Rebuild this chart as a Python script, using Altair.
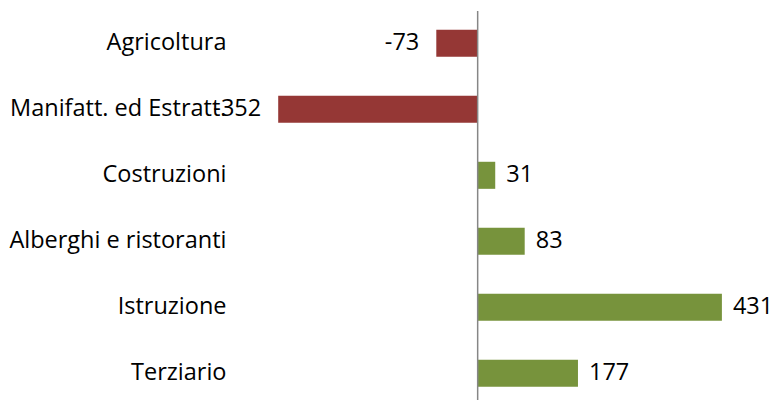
import altair as alt
import pandas as pd

categories = ["Agricoltura", "Manifatt. ed Estratt.", "Costruzioni",
              "Alberghi e ristoranti", "Istruzione", "Terziario"]
values = [-73, -352, 31, 83, 431, 177]

df = pd.DataFrame({"cat": categories, "val": values})
df["sign"] = ["neg" if v < 0 else "pos" for v in values]
df["lab"] = [("-" + str(-v)) if v < 0 else str(v) for v in values]

FONT = "Open Sans"
FS = 23.5
H = 390
W = 510

y_enc = alt.Y("cat:N", sort=categories,
              scale=alt.Scale(paddingInner=0.59, paddingOuter=0.25, align=0.6),
              axis=alt.Axis(title=None, domain=False, ticks=False,
                            labelFont=FONT, labelFontSize=FS, labelColor="#000000",
                            labelPadding=25, labelLimit=400))
x_scale = alt.Scale(domain=[-400, 500], nice=False, zero=False)

base = alt.Chart(df)

bars = base.mark_bar().encode(
    y=y_enc,
    x=alt.X("val:Q", scale=x_scale, axis=None),
    x2=alt.datum(0),
    color=alt.Color("sign:N", scale=alt.Scale(domain=["neg", "pos"], range=["#953735", "#77933C"]), legend=None),
)

labels_neg = base.transform_filter("datum.val < 0").mark_text(
    align="right", baseline="middle", dx=-17, font=FONT, fontSize=FS, color="#000000"
).encode(y=alt.Y("cat:N", sort=categories), x=alt.X("val:Q", scale=x_scale), text="lab:N")

labels_pos = base.transform_filter("datum.val >= 0").mark_text(
    align="left", baseline="middle", dx=11, font=FONT, fontSize=FS, color="#000000"
).encode(y=alt.Y("cat:N", sort=categories), x=alt.X("val:Q", scale=x_scale), text="lab:N")

zero = alt.Chart(pd.DataFrame({"z": [0]})).mark_rule(color="#868686", strokeWidth=1.5).encode(
    x=alt.X("z:Q", scale=x_scale), y=alt.value(1), y2=alt.value(H)
)

chart = alt.layer(bars, zero, labels_neg, labels_pos).properties(
    width=W, height=H,
    autosize=alt.AutoSizeParams(type="none"),
    padding={"left": 243, "top": 2, "right": 13, "bottom": 0},
).configure_view(stroke=None)

chart.save("out.html", embed_options={"renderer": "svg", "actions": False})
